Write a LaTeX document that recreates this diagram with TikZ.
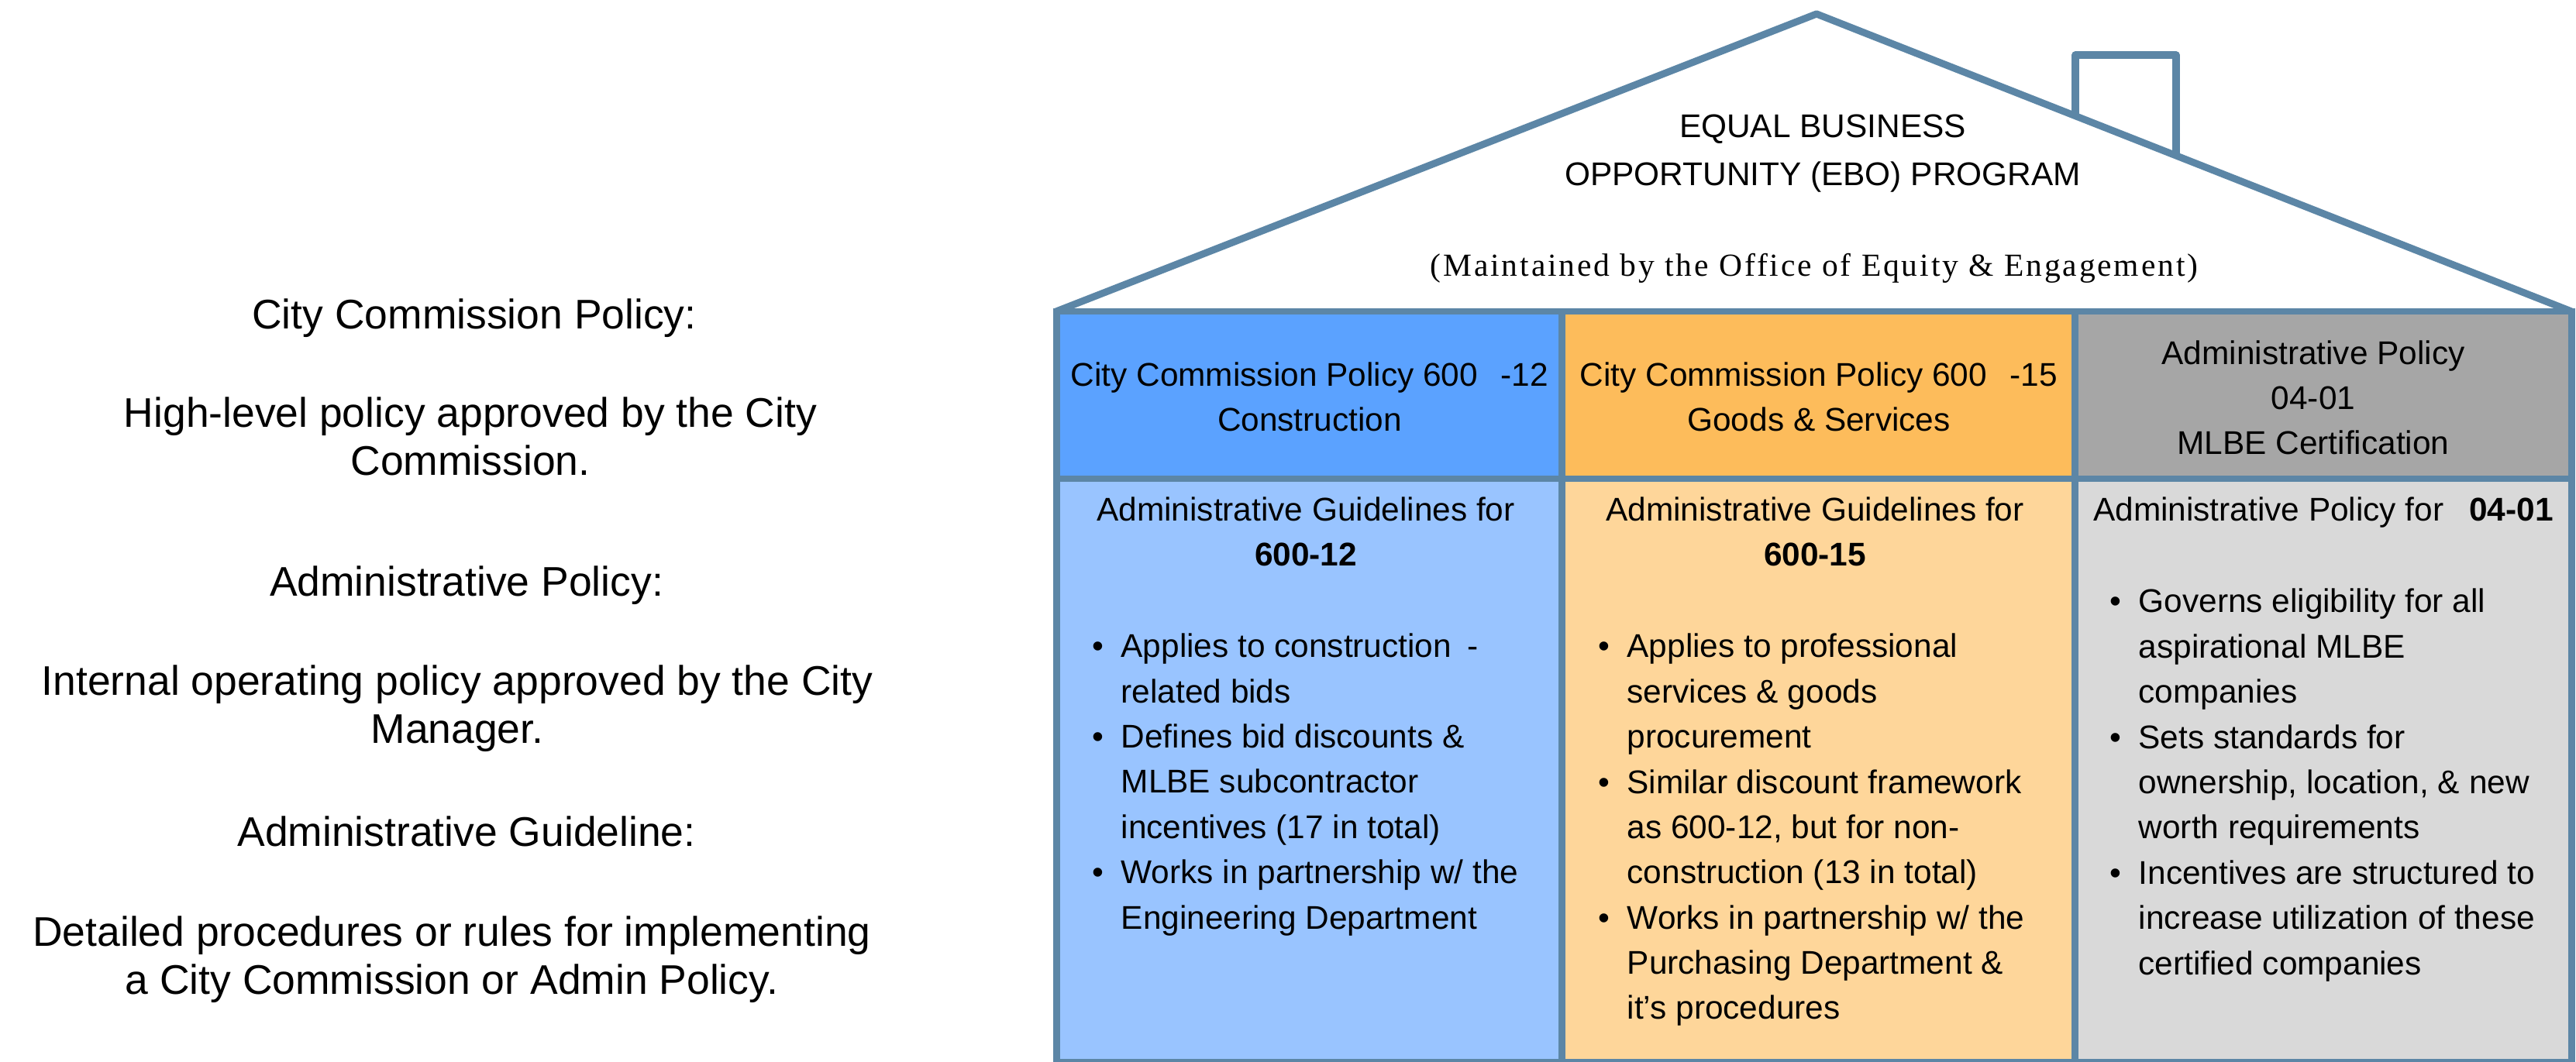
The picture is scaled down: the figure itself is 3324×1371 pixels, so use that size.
\documentclass[tikz,border=0pt]{standalone}
\usepackage{fontspec}
\setmainfont{Liberation Sans}
\newfontfamily\roofserif[LetterSpace=7]{Liberation Serif}
\usepackage{tikz}
\usetikzlibrary{positioning}
\definecolor{frame}{RGB}{92,134,166}
\definecolor{ccblue}{RGB}{91,162,255}
\definecolor{ccbluelt}{RGB}{153,196,255}
\definecolor{ccorange}{RGB}{253,188,91}
\definecolor{ccorangelt}{RGB}{254,214,154}
\definecolor{apgray}{RGB}{166,166,166}
\definecolor{apgraylt}{RGB}{217,217,217}
\newcommand{\bitem}{\makebox[0.37cm][l]{\textbullet}}
\newcommand{\bcont}{\hspace*{0.37cm}}

\begin{document}
\begin{tikzpicture}[x=0.01cm,y=-0.01cm,
	frameline/.style={draw=frame,line width=2.55pt},
	roofline/.style={draw=frame,line width=2.6pt,line join=round},
	celltext/.style={inner sep=0pt,align=center,font=\fontsize{12.05pt}{16.6pt}\selectfont},
	listtext/.style={inner sep=0pt,align=left,anchor=base west,font=\fontsize{12.05pt}{16.6pt}\selectfont},
	sidetext/.style={inner sep=0pt,align=center,anchor=base,font=\fontsize{15.2pt}{17.9pt}\selectfont}]
	\useasboundingbox (0,0) rectangle (3324,1371);
	\fill[white] (0,0) rectangle (3324,1371);
	
	% house corners
	\coordinate (eaveL) at (1363,402);
	\coordinate (apex) at (2344,18);
	\coordinate (eaveR) at (3318,402);
	\coordinate (chimL) at (2678,150);
	\coordinate (chimR) at (2808,201);
	
	% cells
	\fill[ccblue] (1363,402) rectangle (2015,618);
	\fill[ccorange] (2015,402) rectangle (2677,618);
	\fill[apgray] (2677,402) rectangle (3318,618);
	\fill[ccbluelt] (1363,618) rectangle (2015,1371);
	\fill[ccorangelt] (2015,618) rectangle (2677,1371);
	\fill[apgraylt] (2677,618) rectangle (3318,1371);
	
	\draw[roofline] (eaveL) -- (apex) -- (eaveR);
	\draw[roofline] (chimL) -- (2678,71) -- (2808,71) -- (chimR);
	
	\draw[frameline] (1363,402) rectangle (3318,1371);
	\draw[frameline] (1363,618) -- (3318,618);
	\draw[frameline] (2015,402) -- (2015,1371);
	\draw[frameline] (2677,402) -- (2677,1371);
	
	% roof (base = last line)
	\node[celltext,anchor=base,font=\fontsize{12.05pt}{17.9pt}\selectfont] (ebo) at (2352,240) {EQUAL BUSINESS\\OPPORTUNITY (EBO) PROGRAM};
	\node[inner sep=0pt,anchor=base,font=\roofserif\fontsize{11.8pt}{14pt}\selectfont] (keeper) at (2341,357) {(Maintained by the Office of Equity \& Engagement)};
	
	% headers
	\node[celltext,anchor=base] (hdA) at (1690,557) {City Commission Policy 600\hspace{0.3cm}-12\\Construction};
	\node[celltext,anchor=base] (hdB) at (2347,557) {City Commission Policy 600\hspace{0.3cm}-15\\Goods \& Services};
	\node[celltext,anchor=base] (hdC) at (2985,587) {Administrative Policy\\04-01\\MLBE Certification};
	
	% bodies
	\node[celltext,anchor=base] (gdA) at (1685,731) {Administrative Guidelines for\\\textbf{600-12}};
	\node[celltext,anchor=base] (gdB) at (2342,731) {Administrative Guidelines for\\\textbf{600-15}};
	\node[celltext,anchor=base] (gdC) at (2998,673) {Administrative Policy for\hspace{0.33cm}\textbf{04-01}};
	
	\node[listtext] (lsA) at (1409,1199) {\bitem Applies to construction\hspace{0.2cm}-\\\bcont related bids\\\bitem Defines bid discounts \&\\\bcont MLBE subcontractor\\\bcont incentives (17 in total)\\\bitem Works in partnership w/ the\\\bcont Engineering Department};
	\node[listtext] (lsB) at (2062,1316) {\bitem Applies to professional\\\bcont services \& goods\\\bcont procurement\\\bitem Similar discount framework\\\bcont as 600-12, but for non-\\\bcont construction (13 in total)\\\bitem Works in partnership w/ the\\\bcont Purchasing Department \&\\\bcont it’s procedures};
	\node[listtext] (lsC) at (2722,1258) {\bitem Governs eligibility for all\\\bcont aspirational MLBE\\\bcont companies\\\bitem Sets standards for\\\bcont ownership, location, \& new\\\bcont worth requirements\\\bitem Incentives are structured to\\\bcont increase utilization of these\\\bcont certified companies};
	
	% left side
	\node[sidetext] (lbA) at (612,425) {City Commission Policy:};
	\node[sidetext] (txA) at (607,614) {High-level policy approved by the City\\Commission.};
	\node[sidetext] (lbB) at (602,770) {Administrative Policy:};
	\node[sidetext] (txB) at (590,960) {Internal operating policy approved by the City\\Manager.};
	\node[sidetext] (lbC) at (602,1093) {Administrative Guideline:};
	\node[sidetext] (txC) at (583,1284) {Detailed procedures or rules for implementing\\a City Commission or Admin Policy.};
	
\end{tikzpicture}
\end{document}
